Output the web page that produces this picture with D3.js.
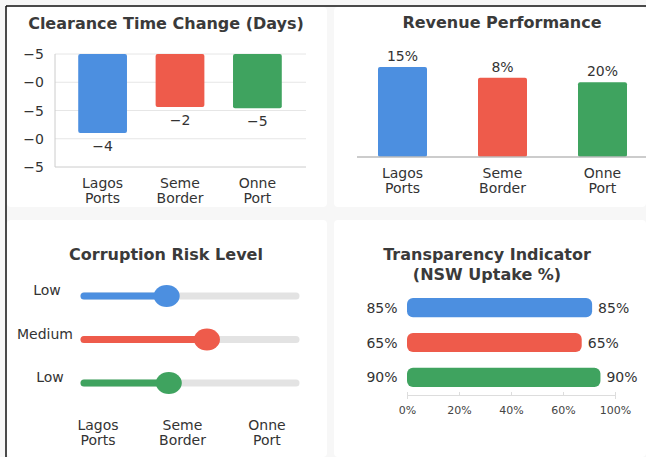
<!DOCTYPE html>
<html>
<head>
<meta charset="utf-8">
<script src="https://cdn.jsdelivr.net/npm/d3@7"></script>
<style>
  body { margin: 0; background: #fff; }
  svg { display: block; }
  text { font-family: "DejaVu Sans", sans-serif; fill: #333; }
</style>
</head>
<body>
<div id="chart"></div>
<script>
// data
const ports = ["Lagos Ports", "Seme Border", "Onne Port"];
const colors = ["#4c8fe0", "#ee5b4b", "#3fa35f"];

// clearance time: axis labels as printed, bars hang from top
const clearTicks = [5, 0, -5, -10, -15];
const clearTickLabels = ["\u22125", "\u22120", "\u22125", "\u22120", "\u22125"];
const clearBarEnd = [-9, -4.4, -4.6];
const clearLabels = ["\u22124", "\u22122", "\u22125"];

// revenue performance
const revHeight = [100, 88, 83];
const revLabels = ["15%", "8%", "20%"];

// corruption risk level
const riskLevels = ["Low", "Medium", "Low"];
const riskValue = [39, 58, 40];

// transparency
const nswBar = [89, 84, 93];
const nswLabels = ["85%", "65%", "90%"];
const nswTicks = [0, 25, 50, 75, 100];
const nswTickLabels = ["0%", "20%", "40%", "60%", "100%"];

const W = 646, H = 457;
const svg = d3.select("#chart").append("svg").attr("width", W).attr("height", H);

svg.append("rect").attr("width", W).attr("height", H).attr("fill", "#f7f7f7");
// panels
const panels = [[7, 7, 320, 200], [334, 7, 312, 200], [7, 220, 320, 237], [334, 220, 312, 237]];
svg.selectAll(".panel").data(panels).enter().append("rect")
   .attr("x", d => d[0]).attr("y", d => d[1]).attr("width", d => d[2]).attr("height", d => d[3])
   .attr("rx", 4).attr("fill", "#fff");

// frame lines (top and left only)
svg.append("line").attr("x1", 6).attr("x2", W).attr("y1", 6).attr("y2", 6).attr("stroke", "#111").attr("stroke-width", 1.5);
svg.append("line").attr("x1", 6).attr("x2", 6).attr("y1", 6).attr("y2", H).attr("stroke", "#111").attr("stroke-width", 1.5);

function title(x, y, t) {
  svg.append("text").attr("x", x).attr("y", y).attr("text-anchor", "middle")
     .style("font-size", "16px").style("font-weight", 600).style("fill", "#3a3a3a").text(t);
}
function catLabel(g, x, y, name) {
  const parts = name.split(" ");
  const t = g.append("text").attr("x", x).attr("y", y).attr("text-anchor", "middle").style("font-size", "14px");
  parts.forEach((p, i) => t.append("tspan").attr("x", x).attr("dy", i ? 15 : 0).text(p));
}

// ---- top left: clearance time
title(166, 29, "Clearance Time Change (Days)");
const x1 = d3.scaleBand().domain(ports).range([55, 305]).paddingInner(0.37).paddingOuter(0.3);
const y1 = d3.scaleLinear().domain([5, -15]).range([54, 167]);
const g1 = svg.append("g");
g1.selectAll(".grid").data(clearTicks).enter().append("line")
  .attr("x1", 55).attr("x2", 306).attr("y1", d => y1(d)).attr("y2", d => y1(d))
  .attr("stroke", (d, i) => i == clearTicks.length - 1 ? "#ccc" : "#e6e6e6");
g1.append("line").attr("x1", 55).attr("x2", 55).attr("y1", y1(5)).attr("y2", y1(-15)).attr("stroke", "#ccc");
g1.selectAll(".tl").data(clearTicks).enter().append("text")
  .attr("x", 44).attr("y", d => y1(d) + 5).attr("text-anchor", "end").style("font-size", "14px")
  .text((d, i) => clearTickLabels[i]);
g1.selectAll(".bar").data(ports).enter().append("rect")
  .attr("x", d => x1(d)).attr("width", x1.bandwidth())
  .attr("y", y1(5)).attr("height", (d, i) => y1(clearBarEnd[i]) - y1(5))
  .attr("rx", 2).attr("fill", (d, i) => colors[i]);
g1.selectAll(".vl").data(ports).enter().append("text")
  .attr("x", d => x1(d) + x1.bandwidth() / 2).attr("y", (d, i) => y1(clearBarEnd[i]) + 18)
  .attr("text-anchor", "middle").style("font-size", "14px").text((d, i) => clearLabels[i]);
ports.forEach(p => catLabel(g1, x1(p) + x1.bandwidth() / 2, 188, p));

// ---- top right: revenue
title(502, 28, "Revenue Performance");
const x2 = d3.scaleBand().domain(ports).range([357, 648]).paddingInner(0.51).paddingOuter(0.21);
const y2 = d3.scaleLinear().domain([0, 100]).range([157, 67]);
const g2 = svg.append("g");
g2.selectAll(".bar").data(ports).enter().append("rect")
  .attr("x", d => x2(d)).attr("width", x2.bandwidth())
  .attr("y", (d, i) => y2(revHeight[i])).attr("height", (d, i) => y2(0) - y2(revHeight[i]))
  .attr("rx", 2).attr("fill", (d, i) => colors[i]);
g2.append("line").attr("x1", 357).attr("x2", W).attr("y1", y2(0)).attr("y2", y2(0)).attr("stroke", "#bbb").attr("stroke-width", 1.5);
g2.selectAll(".vl").data(ports).enter().append("text")
  .attr("x", d => x2(d) + x2.bandwidth() / 2).attr("y", (d, i) => y2(revHeight[i]) - 6)
  .attr("text-anchor", "middle").style("font-size", "14px").text((d, i) => revLabels[i]);
ports.forEach(p => catLabel(g2, x2(p) + x2.bandwidth() / 2, 178, p));

// ---- bottom left: corruption risk
title(166, 260, "Corruption Risk Level");
const xr = d3.scaleLinear().domain([0, 100]).range([84, 296]);
const yr = d3.scalePoint().domain(d3.range(riskLevels.length)).range([296, 383]);
const g3 = svg.append("g");
riskLevels.forEach((lv, i) => {
  const y = yr(i);
  g3.append("line").attr("x1", xr(0)).attr("x2", xr(100)).attr("y1", y).attr("y2", y)
    .attr("stroke", "#e3e3e3").attr("stroke-width", 7).attr("stroke-linecap", "round");
  g3.append("line").attr("x1", xr(0)).attr("x2", xr(riskValue[i])).attr("y1", y).attr("y2", y)
    .attr("stroke", colors[i]).attr("stroke-width", 7).attr("stroke-linecap", "round");
  g3.append("ellipse").attr("cx", xr(riskValue[i])).attr("cy", y).attr("rx", 13).attr("ry", 11)
    .attr("fill", colors[i]);
});
const riskLabX = [47, 45, 50];
g3.selectAll(".rl").data(riskLevels).enter().append("text")
  .attr("x", (d, i) => riskLabX[i]).attr("y", (d, i) => yr(i) - 1)
  .attr("text-anchor", "middle").style("font-size", "14px").text(d => d);
const xc = d3.scalePoint().domain(ports).range([98, 267]);
ports.forEach(p => catLabel(g3, xc(p), 430, p));

// ---- bottom right: transparency
svg.append("text").attr("x", 487).attr("y", 260).attr("text-anchor", "middle")
   .style("font-size", "16px").style("font-weight", 600).style("fill", "#3a3a3a")
   .selectAll("tspan").data(["Transparency Indicator", "(NSW Uptake %)"]).enter().append("tspan")
   .attr("x", 487).attr("dy", (d, i) => i ? 20 : 0).text(d => d);
const xt = d3.scaleLinear().domain([0, 100]).range([407, 615]);
const yt = d3.scaleBand().domain(ports).range([298, 387]).paddingInner(0.45);
const g4 = svg.append("g");
g4.selectAll(".bar").data(ports).enter().append("rect")
  .attr("x", xt(0)).attr("y", d => yt(d))
  .attr("width", (d, i) => xt(nswBar[i]) - xt(0)).attr("height", yt.bandwidth())
  .attr("rx", 6).attr("fill", (d, i) => colors[i]);
g4.selectAll(".ll").data(ports).enter().append("text")
  .attr("x", 382).attr("y", d => yt(d) + yt.bandwidth() / 2 + 5)
  .attr("text-anchor", "middle").style("font-size", "14px").text((d, i) => nswLabels[i]);
g4.selectAll(".rl").data(ports).enter().append("text")
  .attr("x", (d, i) => xt(nswBar[i]) + 6).attr("y", d => yt(d) + yt.bandwidth() / 2 + 5)
  .style("font-size", "14px").text((d, i) => nswLabels[i]);
const ax = d3.axisBottom(xt).tickValues(nswTicks).tickSize(4)
  .tickFormat((d, i) => nswTickLabels[i]);
const axg = g4.append("g").attr("transform", "translate(0,395)").call(ax);
axg.select(".domain").attr("stroke", "#ddd");
axg.selectAll(".tick line").attr("stroke", "#ddd").attr("y1", -3).attr("y2", 1);
axg.selectAll(".tick text").style("font-size", "11px").style("fill", "#444").style("font-family", "DejaVu Sans").attr("dy", "1.1em");
</script>
</body>
</html>
